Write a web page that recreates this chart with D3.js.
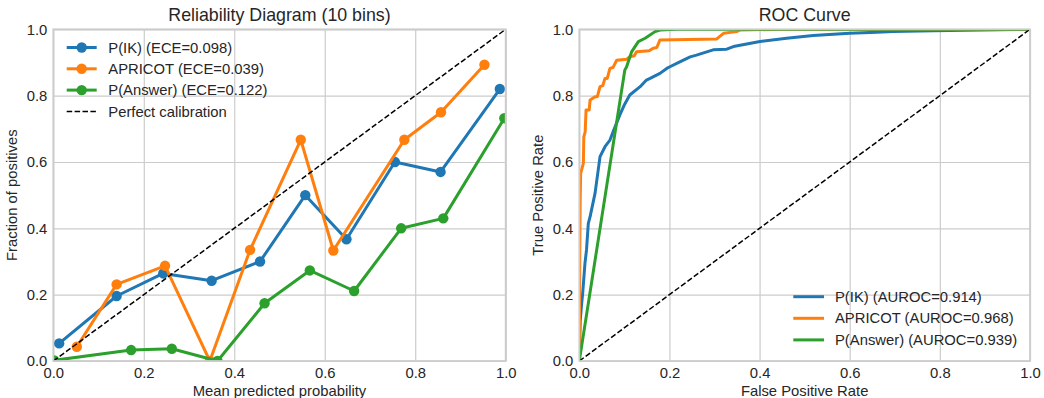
<!DOCTYPE html>
<html>
<head>
<meta charset="utf-8">
<script src="https://cdn.jsdelivr.net/npm/d3@7"></script>
<style>
  body { margin: 0; background: #fff; }
  svg { display: block; font-family: "Liberation Sans", Arial, sans-serif; }
</style>
</head>
<body>
<div id="chart"></div>
<script>
// reliability diagram, one point per non-empty bin
const ikBinX = [0.013, 0.140, 0.243, 0.350, 0.457, 0.557, 0.648, 0.755, 0.856, 0.987];
const ikBinY = [0.053, 0.196, 0.264, 0.242, 0.300, 0.500, 0.367, 0.600, 0.570, 0.820];
const apricotBinX = [0.052, 0.140, 0.247, 0.346, 0.435, 0.547, 0.619, 0.776, 0.857, 0.953];
const apricotBinY = [0.043, 0.231, 0.287, 0.000, 0.335, 0.667, 0.333, 0.667, 0.750, 0.893];
const answerBinX = [0.002, 0.172, 0.262, 0.363, 0.467, 0.567, 0.665, 0.769, 0.862, 0.997];
const answerBinY = [0.002, 0.033, 0.037, 0.000, 0.174, 0.273, 0.211, 0.400, 0.430, 0.732];

// ROC curves (false positive rate, true positive rate)
const ikFpr = [0, 0.002, 0.005, 0.0075, 0.0126, 0.016, 0.020, 0.024, 0.027, 0.035, 0.039, 0.046, 0.057, 0.068,
  0.075, 0.090, 0.101, 0.112, 0.135, 0.149, 0.157, 0.179, 0.194, 0.201, 0.223, 0.246, 0.260, 0.297, 0.327,
  0.342, 0.401, 0.460, 0.519, 0.600, 0.660, 0.696, 0.785, 0.933, 1.0];
const ikTpr = [0, 0.120, 0.170, 0.204, 0.295, 0.335, 0.415, 0.435, 0.455, 0.506, 0.546, 0.616, 0.646, 0.666,
  0.691, 0.742, 0.775, 0.802, 0.827, 0.847, 0.852, 0.867, 0.882, 0.887, 0.902, 0.917, 0.922, 0.938, 0.940,
  0.948, 0.963, 0.973, 0.981, 0.988, 0.991, 0.993, 0.996, 0.999, 1.0];
const apricotFpr = [0, 0.001, 0.002, 0.003, 0.009, 0.010, 0.013, 0.015, 0.022, 0.024, 0.035, 0.040, 0.046, 0.052,
  0.057, 0.062, 0.068, 0.075, 0.083, 0.105, 0.112, 0.122, 0.127, 0.155, 0.164, 0.172, 0.179, 0.305, 0.320,
  0.349, 0.357, 0.456, 1.0];
const apricotTpr = [0, 0.300, 0.485, 0.566, 0.596, 0.676, 0.690, 0.757, 0.757, 0.787, 0.797, 0.797, 0.827, 0.830,
  0.852, 0.852, 0.882, 0.885, 0.907, 0.910, 0.917, 0.920, 0.932, 0.935, 0.943, 0.945, 0.968, 0.971, 0.988,
  0.993, 0.998, 1.0, 1.0];
const answerFpr = [0, 0.101, 0.105, 0.116, 0.131, 0.146, 0.168, 0.179, 0.216, 1.0];
const answerTpr = [0, 0.877, 0.887, 0.932, 0.963, 0.973, 0.993, 0.998, 1.0, 1.0];

const tickValues = [0, 0.2, 0.4, 0.6, 0.8, 1.0];
const calibLabels = ["P(IK) (ECE=0.098)", "APRICOT (ECE=0.039)", "P(Answer) (ECE=0.122)", "Perfect calibration"];
const rocLabels = ["P(IK) (AUROC=0.914)", "APRICOT (AUROC=0.968)", "P(Answer) (AUROC=0.939)"];
const colors = ["#1f77b4", "#ff7f0e", "#2ca02c"];

const W = 1044, H = 398;
const textColor = "#262626";
const svg = d3.select("#chart").append("svg").attr("width", W).attr("height", H);
const defs = svg.append("defs");

function makePanel(id, left, right, top, bottom, title, xLabel, yLabel) {
  const width = right - left, height = bottom - top;
  const x = d3.scaleLinear().domain([0, 1]).range([0, width]);
  const y = d3.scaleLinear().domain([0, 1]).range([height, 0]);

  defs.append("clipPath").attr("id", id).append("rect")
    .attr("width", width).attr("height", height);

  const g = svg.append("g").attr("transform", `translate(${left},${top})`);

  // grid + tick labels
  const gx = g.append("g").attr("transform", `translate(0,${height})`)
    .call(d3.axisBottom(x).tickValues(tickValues).tickFormat(d3.format(".1f"))
      .tickSizeInner(-height).tickSizeOuter(0).tickPadding(6));
  const gy = g.append("g")
    .call(d3.axisLeft(y).tickValues(tickValues).tickFormat(d3.format(".1f"))
      .tickSizeInner(-width).tickSizeOuter(0).tickPadding(6));
  [gx, gy].forEach(a => {
    a.select(".domain").remove();
    a.selectAll(".tick line").attr("stroke", "#cccccc").attr("stroke-width", 1.2);
    a.selectAll(".tick text").attr("fill", textColor).attr("font-size", 14.8)
      .attr("font-family", "Liberation Sans, Arial, sans-serif");
  });

  const plot = g.append("g").attr("clip-path", `url(#${id})`);

  svg.append("text").attr("x", left + width / 2).attr("y", 21)
    .attr("text-anchor", "middle").attr("font-size", 17.8).attr("fill", textColor).text(title);
  svg.append("text").attr("x", left + width / 2).attr("y", 395.5)
    .attr("text-anchor", "middle").attr("font-size", 14.8).attr("fill", textColor).text(xLabel);
  svg.append("text")
    .attr("transform", `translate(${left - 36},${top + height / 2}) rotate(-90)`)
    .attr("text-anchor", "middle").attr("font-size", 14.8).attr("fill", textColor).text(yLabel);

  return { g, plot, x, y, width, height };
}

function drawFrame(p) {
  p.g.append("rect").attr("width", p.width).attr("height", p.height)
    .attr("fill", "none").attr("stroke", "#cccccc").attr("stroke-width", 1.8);
}

// ---------- left: reliability diagram ----------
const left = makePanel("clip-cal", 53.3, 505.7, 29.3, 361, "Reliability Diagram (10 bins)",
  "Mean predicted probability", "Fraction of positives");

const calibSeries = [
  d3.zip(ikBinX, ikBinY),
  d3.zip(apricotBinX, apricotBinY),
  d3.zip(answerBinX, answerBinY)
];
const lineL = d3.line().x(d => left.x(d[0])).y(d => left.y(d[1]));

calibSeries.forEach((pts, i) => {
  left.plot.append("path").attr("d", lineL(pts))
    .attr("fill", "none").attr("stroke", colors[i]).attr("stroke-width", 3)
    .attr("stroke-linejoin", "round").attr("stroke-linecap", "round");
  left.plot.selectAll(null).data(pts).enter().append("circle")
    .attr("cx", d => left.x(d[0])).attr("cy", d => left.y(d[1]))
    .attr("r", 5.2).attr("fill", colors[i]);
});
left.plot.append("path").attr("d", lineL([[0, 0], [1, 1]]))
  .attr("fill", "none").attr("stroke", "#000").attr("stroke-width", 1.5)
  .attr("stroke-dasharray", "5.5,2.4");
drawFrame(left);

// legend
const legL = svg.append("g");
calibLabels.forEach((lab, i) => {
  const yy = 47.5 + i * 21.3;
  const row = legL.append("g");
  if (i < 3) {
    row.append("line").attr("x1", 66.7).attr("x2", 96.7).attr("y1", yy).attr("y2", yy)
      .attr("stroke", colors[i]).attr("stroke-width", 3);
    row.append("circle").attr("cx", 81.7).attr("cy", yy).attr("r", 5.2).attr("fill", colors[i]);
  } else {
    row.append("line").attr("x1", 66.7).attr("x2", 96.7).attr("y1", yy).attr("y2", yy)
      .attr("stroke", "#000").attr("stroke-width", 1.5).attr("stroke-dasharray", "5.5,2.4");
  }
  row.append("text").attr("x", 108.3).attr("y", yy).attr("dy", "0.35em")
    .attr("font-size", 14.8).attr("fill", textColor).text(lab);
});

// ---------- right: ROC ----------
const right = makePanel("clip-roc", 579.3, 1030, 29.3, 361, "ROC Curve",
  "False Positive Rate", "True Positive Rate");

const rocSeries = [
  d3.zip(ikFpr, ikTpr),
  d3.zip(apricotFpr, apricotTpr),
  d3.zip(answerFpr, answerTpr)
];
const lineR = d3.line().x(d => right.x(d[0])).y(d => right.y(d[1]));
rocSeries.forEach((pts, i) => {
  right.plot.append("path").attr("d", lineR(pts))
    .attr("fill", "none").attr("stroke", colors[i]).attr("stroke-width", 3)
    .attr("stroke-linejoin", "round");
});
right.plot.append("path").attr("d", lineR([[0, 0], [1, 1]]))
  .attr("fill", "none").attr("stroke", "#000").attr("stroke-width", 1.5)
  .attr("stroke-dasharray", "5.5,2.4");
drawFrame(right);

const legR = svg.append("g");
rocLabels.forEach((lab, i) => {
  const yy = 296.7 + i * 21.6;
  legR.append("line").attr("x1", 793.3).attr("x2", 824).attr("y1", yy).attr("y2", yy)
    .attr("stroke", colors[i]).attr("stroke-width", 3);
  legR.append("text").attr("x", 835).attr("y", yy).attr("dy", "0.35em")
    .attr("font-size", 14.8).attr("fill", textColor).text(lab);
});
</script>
</body>
</html>
